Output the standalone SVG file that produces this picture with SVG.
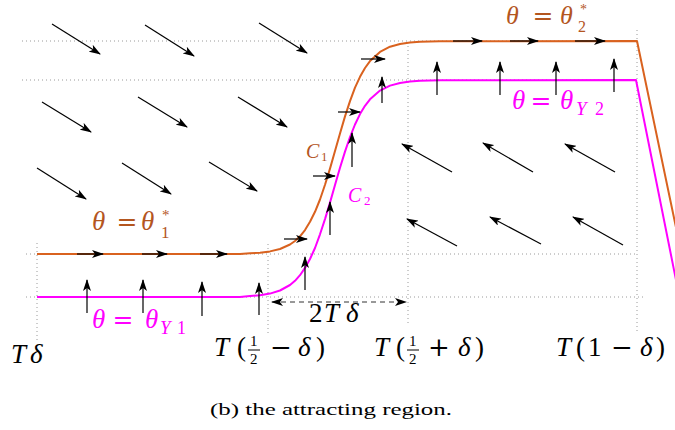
<svg xmlns="http://www.w3.org/2000/svg" width="675" height="430" viewBox="0 0 675 430">
<style>
.grid{stroke:#9a9a9a;stroke-width:1;stroke-dasharray:1 3;fill:none}
.arr{stroke:#000;stroke-width:1.2;fill:none;marker-end:url(#ah)}
.fa{stroke:#000;stroke-width:1.2;fill:none;marker-end:url(#ah)}
.m{font-family:"Liberation Serif","DejaVu Serif",serif;font-style:italic}
.r{font-family:"Liberation Serif","DejaVu Serif",serif}
.eq{font-family:"DejaVu Serif","Liberation Serif",serif}
.or{fill:#B4561F}
.mg{fill:#FF00FF}
</style>
<defs>
<marker id="ah" viewBox="0 0 12 8" refX="11" refY="4" markerWidth="12" markerHeight="8" markerUnits="userSpaceOnUse" orient="auto-start-reverse">
<path d="M0,0 L12,4 L0,8 L3,4 Z" fill="#000"/>
</marker>
</defs>
<g id="grid">
<line class="grid" x1="22" y1="41" x2="637" y2="41"/>
<line class="grid" x1="22" y1="80" x2="637" y2="80"/>
<line class="grid" x1="26" y1="254" x2="637" y2="254"/>
<line class="grid" x1="26" y1="297" x2="645" y2="297"/>
<line class="grid" x1="37" y1="243" x2="37" y2="342"/>
<line class="grid" x1="268" y1="244" x2="268" y2="335"/>
<line class="grid" x1="408" y1="42" x2="408" y2="326"/>
<line class="grid" x1="637" y1="30" x2="637" y2="333"/>
</g>
<g id="curve-C1">
<path d="M37,254 L240,254 L250,253.3 L260,252.7 L270,251.4 L280,249 L290,244.5 L295,241 L300,236.3 L305,230.1 L310,221.8 L315,211.8 L320,199.5 L325,184.8 L330,168.6 L335,151.1 L340,133.4 L345,116.4 L350,101.1 L355,87.6 L360,76.8 L365,68 L370,61.1 L380,51.9 L390,46.7 L400,44 L410,42.5 L420,41.8 L440,41.2 L637,41 L682,256" fill="none" stroke="#D9621F" stroke-width="2" stroke-linejoin="round"/>
</g>
<g id="curve-C2">
<path d="M37,297 L240,297 L250,296 L260,295.2 L270,293.6 L280,290.5 L290,285 L295,280.8 L300,275.2 L305,267.9 L310,259 L315,248 L320,234.3 L325,219.1 L330,202.6 L335,185 L340,167.7 L345,151.6 L350,137 L355,124.5 L360,114.1 L365,105.8 L370,99.3 L380,90.6 L390,85.6 L400,83 L410,81.6 L420,80.8 L440,80.2 L636,80 L678,290" fill="none" stroke="#FF00FF" stroke-width="2" stroke-linejoin="round"/>
</g>
<g id="connectors">
<line class="fa" x1="52" y1="24" x2="100" y2="54"/>
<line class="fa" x1="145" y1="25" x2="194" y2="56"/>
<line class="fa" x1="259" y1="23" x2="307" y2="53"/>
<line class="fa" x1="42" y1="102" x2="91" y2="132"/>
<line class="fa" x1="138" y1="97" x2="187" y2="127"/>
<line class="fa" x1="238" y1="97" x2="287" y2="127"/>
<line class="fa" x1="37" y1="168" x2="86" y2="199"/>
<line class="fa" x1="122" y1="163" x2="171" y2="194"/>
<line class="fa" x1="209" y1="162" x2="257" y2="191"/>
<line class="fa" x1="452" y1="172" x2="402" y2="144"/>
<line class="fa" x1="533" y1="172" x2="483" y2="143"/>
<line class="fa" x1="615" y1="172" x2="565" y2="144"/>
<line class="fa" x1="457" y1="246" x2="407" y2="219"/>
<line class="fa" x1="541" y1="244" x2="490" y2="217"/>
<line class="fa" x1="623" y1="245" x2="573" y2="217"/>
<line class="arr" x1="77" y1="254" x2="103" y2="254"/>
<line class="arr" x1="142" y1="254" x2="167" y2="254"/>
<line class="arr" x1="200" y1="254" x2="227" y2="254"/>
<line class="arr" x1="284" y1="239" x2="307" y2="239"/>
<line class="arr" x1="313" y1="176" x2="335" y2="176"/>
<line class="arr" x1="338" y1="112" x2="360" y2="112"/>
<line class="arr" x1="361" y1="59" x2="385" y2="59"/>
<line class="arr" x1="453" y1="41" x2="482" y2="41"/>
<line class="arr" x1="510" y1="41" x2="538" y2="41"/>
<line class="arr" x1="575" y1="41" x2="605" y2="41"/>
<line class="arr" x1="87" y1="313" x2="87" y2="280"/>
<line class="arr" x1="143" y1="313" x2="143" y2="280"/>
<line class="arr" x1="202" y1="316" x2="202" y2="282"/>
<line class="arr" x1="259" y1="315" x2="259" y2="283"/>
<line class="arr" x1="305" y1="290" x2="305" y2="257"/>
<line class="arr" x1="330" y1="235" x2="330" y2="202"/>
<line class="arr" x1="352" y1="167" x2="352" y2="133"/>
<line class="arr" x1="382" y1="103" x2="382" y2="77"/>
<line class="arr" x1="437" y1="95" x2="437" y2="62"/>
<line class="arr" x1="500" y1="95" x2="500" y2="62"/>
<line class="arr" x1="556" y1="95" x2="556" y2="62"/>
<line class="arr" x1="614" y1="92" x2="614" y2="59"/>
<line x1="272" y1="302" x2="406" y2="302" stroke="#333" stroke-width="1" stroke-dasharray="5 4" marker-start="url(#ah)" marker-end="url(#ah)"/>
</g>
<g id="label-theta1">
<text class="m or" x="92" y="230" font-size="27">θ</text>
<text class="eq or" x="127" y="230" font-size="25" text-anchor="middle">=</text>
<text class="m or" x="141" y="230" font-size="27">θ</text>
<text class="r or" x="162" y="220" font-size="15">*</text>
<text class="r or" x="161" y="238" font-size="17">1</text>
</g>
<g id="label-theta2">
<text class="m or" x="506" y="24" font-size="26">θ</text>
<text class="eq or" x="543" y="24" font-size="25" text-anchor="middle">=</text>
<text class="m or" x="560" y="24" font-size="26">θ</text>
<text class="r or" x="580" y="14" font-size="14">*</text>
<text class="r or" x="578" y="32" font-size="16">2</text>
</g>
<g id="label-thetaY1">
<text class="m mg" x="92" y="328" font-size="27">θ</text>
<text class="eq mg" x="123" y="328" font-size="25" text-anchor="middle">=</text>
<text class="m mg" x="145" y="328" font-size="27">θ</text>
<text class="m mg" x="160" y="334" font-size="19">Y</text>
<text class="r mg" x="177" y="334" font-size="18">1</text>
</g>
<g id="label-thetaY2">
<text class="m mg" x="512" y="109" font-size="27">θ</text>
<text class="eq mg" x="541" y="109" font-size="25" text-anchor="middle">=</text>
<text class="m mg" x="560" y="109" font-size="27">θ</text>
<text class="m mg" x="576" y="115" font-size="19">Y</text>
<text class="r mg" x="595" y="115" font-size="18">2</text>
</g>
<g id="label-C1">
<text class="m or" x="306" y="158" font-size="20">C</text>
<text class="r or" x="321" y="161" font-size="13">1</text>
</g>
<g id="label-C2">
<text class="m mg" x="348" y="202" font-size="20">C</text>
<text class="r mg" x="364" y="205" font-size="13">2</text>
</g>
<g id="label-2Tdelta">
<text class="r" x="309" y="322" font-size="27">2</text>
<text class="m" x="324" y="322" font-size="27">T</text>
<text class="m" x="346" y="322" font-size="27">δ</text>
</g>
<g id="axis-labels">
<text class="m" x="11" y="363" font-size="27">T</text>
<text class="m" x="30" y="363" font-size="27">δ</text>

<text class="m" x="214" y="356" font-size="27">T</text>
<text class="r" x="237" y="356" font-size="27">(</text>
<text class="r" x="250" y="346" font-size="15">1</text>
<line x1="248" y1="350" x2="260" y2="350" stroke="#000" stroke-width="1"/>
<text class="r" x="250" y="364" font-size="15">2</text>
<text class="eq" x="281" y="356" font-size="26" text-anchor="middle">−</text>
<text class="m" x="298" y="356" font-size="27">δ</text>
<text class="r" x="316" y="356" font-size="27">)</text>

<text class="m" x="374" y="356" font-size="27">T</text>
<text class="r" x="396" y="356" font-size="27">(</text>
<text class="r" x="409" y="346" font-size="15">1</text>
<line x1="407" y1="350" x2="419" y2="350" stroke="#000" stroke-width="1"/>
<text class="r" x="409" y="364" font-size="15">2</text>
<text class="eq" x="439" y="356" font-size="26" text-anchor="middle">+</text>
<text class="m" x="458" y="356" font-size="27">δ</text>
<text class="r" x="475" y="356" font-size="27">)</text>

<text class="m" x="556" y="356" font-size="27">T</text>
<text class="r" x="576" y="356" font-size="27">(</text>
<text class="r" x="588" y="356" font-size="27">1</text>
<text class="eq" x="622" y="356" font-size="26" text-anchor="middle">−</text>
<text class="m" x="640" y="356" font-size="27">δ</text>
<text class="r" x="656" y="356" font-size="27">)</text>
</g>
<g id="caption">
<text class="r" x="210" y="415" font-size="17" textLength="242" lengthAdjust="spacingAndGlyphs">(b) the attracting region.</text>
</g>
</svg>
